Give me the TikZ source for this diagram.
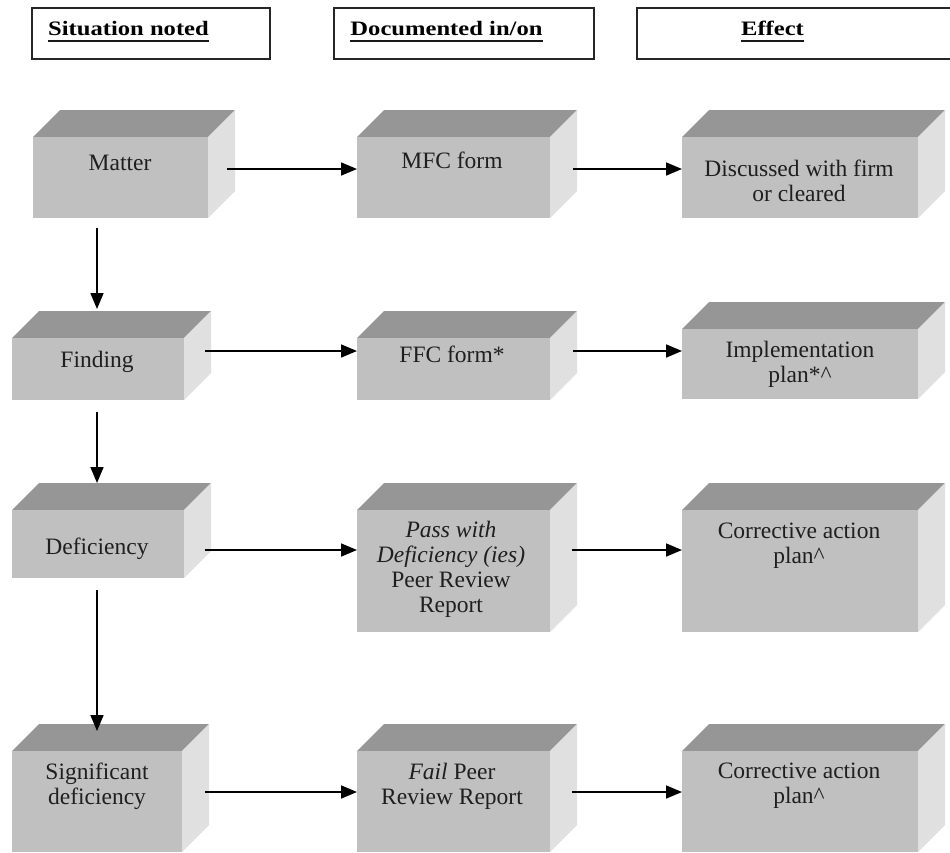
\documentclass[tikz,border=0pt]{standalone}
\usepackage{fontspec}
\setmainfont{Liberation Serif}
\newfontfamily\hdrfont[FakeStretch=1.2]{Liberation Serif}
\usetikzlibrary{arrows.meta,calc}
\definecolor{topc}{HTML}{969696}
\definecolor{frontc}{HTML}{C0C0C0}
\definecolor{sidec}{HTML}{E0E0E0}
% #1 name, #2 x1, #3 y1 (front top), #4 x2, #5 y2 (front bottom)
\newcommand\cubebox[5]{%
  \fill[topface] (#2,#3) -- (#2+27,#3-27) -- (#4+27,#3-27) -- (#4,#3) -- cycle;
  \fill[sideface] (#4,#3) -- (#4+27,#3-27) -- (#4+27,#5-27) -- (#4,#5) -- cycle;
  \node[frontface, minimum width={#4-#2}, minimum height={#5-#3}] (#1) at ({(#2+#4)/2},{(#3+#5)/2}) {};
}
\begin{document}
\begin{tikzpicture}[x=1pt,y=-1pt,
  hdrbox/.style={draw=black!85, line width=1.3pt, inner sep=0, outer sep=0, fill=white},
  hdrtxt/.style={font=\hdrfont\bfseries\fontsize{20.5}{24}\selectfont, inner sep=0, anchor=base, text=black},
  uline/.style={line width=1.6pt, black!90},
  frontface/.style={fill=frontc, inner sep=0, outer sep=0},
  topface/.style={fill=topc},
  sideface/.style={fill=sidec},
  txt/.style={font=\fontsize{23.5}{25}\selectfont, align=center, inner sep=0, text=black!88},
  arr/.style={-{Triangle[length=16pt,width=13pt]}, line width=1.7pt, black}]
\useasboundingbox (0,0) rectangle (950,852);
\fill[white] (0,0) rectangle (950,852);

% header boxes
\node[hdrbox, minimum width=238, minimum height=51] (h1) at (151,33.5) {};
\node[hdrbox, minimum width=260, minimum height=51] (h2) at (464,33.5) {};
\node[hdrbox, minimum width=316, minimum height=51] (h3) at (795,33.5) {};
\node[hdrtxt] (h1t) at (128.5,35) {Situation noted};
\node[hdrtxt] (h2t) at (446.5,35) {Documented in/on};
\node[hdrtxt] (h3t) at (772.5,35) {Effect};
\draw[uline] ([yshift=-6pt]h1t.base west) -- ([yshift=-6pt]h1t.base east);
\draw[uline] ([yshift=-6pt]h2t.base west) -- ([yshift=-6pt]h2t.base east);
\draw[uline] ([yshift=-6pt]h3t.base west) -- ([yshift=-6pt]h3t.base east);

% boxes
\cubebox{matter}{33}{137}{208}{218}
\cubebox{mfc}{357}{137}{550}{218}
\cubebox{disc}{682}{137}{918}{218}
\cubebox{finding}{12}{338}{184}{400}
\cubebox{ffc}{357}{338}{550}{400}
\cubebox{impl}{682}{329}{918}{399}
\cubebox{defic}{12}{510}{184}{578}
\cubebox{pass}{357}{510}{550}{632}
\cubebox{corrA}{682}{510}{918}{632}
\cubebox{signif}{12}{751}{182}{852}
\cubebox{fail}{357}{751}{550}{852}
\cubebox{corrB}{682}{751}{918}{852}

% texts
\node[txt] (matterT) at (120,163) {Matter};
\node[txt] (mfcT) at (452,160) {MFC form};
\node[txt] (discT) at (799,180.5) {Discussed with firm\\or cleared};
\node[txt] (findingT) at (97,362) {Finding};
\node[txt] (ffcT) at (452,354) {FFC form*};
\node[txt] (implT) at (800,364.5) {Implementation\\plan*\^{}};
\node[txt] (deficT) at (97,549) {Deficiency};
\node[txt] (passT) at (451,569) {\textit{Pass with}\\\textit{Deficiency (ies)}\\Peer Review\\Report};
\node[txt] (corrAT) at (799,545.5) {Corrective action\\plan\^{}};
\node[txt] (signifT) at (97,786.5) {Significant\\deficiency};
\node[txt] (failT) at (452,786) {\textit{Fail} Peer\\Review Report};
\node[txt] (corrBT) at (799,785.5) {Corrective action\\plan\^{}};

% horizontal arrows
\coordinate (a1) at (227,169); \draw[arr] (a1) -- (a1 -| mfc.west);
\coordinate (a2) at (573,169); \draw[arr] (a2) -- (a2 -| disc.west);
\coordinate (b1) at (205,351); \draw[arr] (b1) -- (b1 -| ffc.west);
\coordinate (b2) at (573,351); \draw[arr] (b2) -- (b2 -| impl.west);
\coordinate (c1) at (205,550); \draw[arr] (c1) -- (c1 -| pass.west);
\coordinate (c2) at (572,550); \draw[arr] (c2) -- (c2 -| corrA.west);
\coordinate (d1) at (205,792); \draw[arr] (d1) -- (d1 -| fail.west);
\coordinate (d2) at (572,792); \draw[arr] (d2) -- (d2 -| corrB.west);

% vertical arrows
\coordinate (v1) at (97,228); \draw[arr] (v1) -- ($(v1 |- finding.north)+(0,-29)$);
\coordinate (v2) at (97,412); \draw[arr] (v2) -- ($(v2 |- defic.north)+(0,-27)$);
\coordinate (v3) at (97,590); \draw[arr] (v3) -- ($(v3 |- signif.north)+(0,-20)$);
\end{tikzpicture}
\end{document}
